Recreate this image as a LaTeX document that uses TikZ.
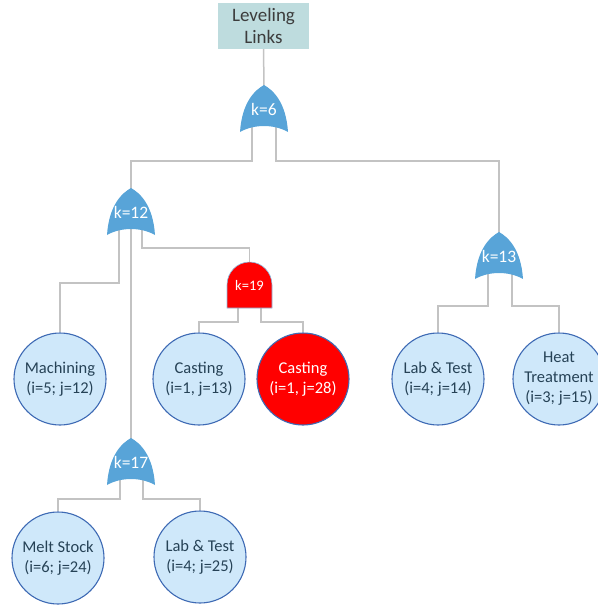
\documentclass[tikz,border=0pt]{standalone}
\usepackage{fontspec}
\setmainfont{Carlito}
\usetikzlibrary{backgrounds}
\definecolor{gateblue}{RGB}{88,164,216}
\definecolor{hotred}{RGB}{255,0,0}
\definecolor{eventfill}{RGB}{207,232,250}
\definecolor{eventline}{RGB}{62,106,180}
\definecolor{eventtext}{RGB}{38,66,86}
\definecolor{topfill}{RGB}{190,220,222}
\definecolor{toptext}{RGB}{60,60,60}
\definecolor{wiregray}{RGB}{195,195,195}
\tikzset{
    event/.style={
        circle,
        draw=eventline,
        fill=eventfill,
        line width=1.1pt,
        minimum size=92pt,
        inner sep=0pt,
        align=center,
        text=eventtext,
        font=\fontsize{16.5}{20}\selectfont
    },
    hotevent/.style={event, fill=hotred, text=white},
    topevent/.style={
        rectangle,
        fill=topfill,
        minimum width=91pt,
        minimum height=46pt,
        inner sep=0pt,
        align=center,
        text=toptext,
        font=\fontsize{19}{22}\selectfont
    },
    gate/.style={
        rectangle,
        minimum width=48pt,
        minimum height=48pt,
        inner sep=0pt,
        text=white,
        font=\fontsize{17.5}{19}\selectfont
    },
    andlabel/.style={gate, font=\fontsize{14.5}{17}\selectfont},
    wire/.style={draw=wiregray, line width=1.5pt}
}

\begin{document}
\begin{tikzpicture}[x=1pt, y=-1pt]
	\useasboundingbox (0,0) rectangle (597,607);
	\node[topevent] (links) at (263.5,26) {Leveling\\Links};
	\node[gate] (k6) at (264,109) {k=6};
	\node[gate] (k12) at (131,212) {k=12};
	\node[gate] (k13) at (499,256) {k=13};
	\node[andlabel] (k19) at (249.5,285) {k=19};
	\node[gate] (k17) at (131,462) {k=17};
	\node[event] (mach) at (60,379) {Machining\\(i=5; j=12)};
	\node[event] (cast) at (199,379) {Casting\\(i=1, j=13)};
	\node[hotevent] (hotcast) at (303,379) {Casting\\(i=1, j=28)};
	\node[event] (lab) at (438,379) {Lab \& Test\\(i=4; j=14)};
	\node[event] (heat) at (559,379) {Heat\\Treatment\\(i=3; j=15)};
	\node[event] (melt) at (58,558) {Melt Stock\\(i=6; j=24)};
	\node[event] (labb) at (200,557) {Lab \& Test\\(i=4; j=25)};
	\begin{scope}[on background layer]
	\draw[wire] (links) -- (k6.center);
	\draw[wire] ([xshift=-12pt]k6.center) -- ++(0,52) -| (k12.center);
	\draw[wire] ([xshift=12pt]k6.center) -- ++(0,52) -| (k13.center);
	\draw[wire] ([xshift=-12pt]k12.center) -- ++(0,71) -| (mach.north);
	\draw[wire] (k12.center) -- (k17.center);
	\draw[wire] ([xshift=11pt]k12.center) -- ++(0,36) -| (k19.center);
	\draw[wire] ([xshift=-11.5pt]k19.center) -- ++(0,37) -| (cast.north);
	\draw[wire] ([xshift=11.5pt]k19.center) -- ++(0,37) -| (hotcast.north);
	\draw[wire] ([xshift=-11pt]k13.center) -- ++(0,50) -| (lab.north);
	\draw[wire] ([xshift=13pt]k13.center) -- ++(0,50) -| (heat.north);
	\draw[wire] ([xshift=-11pt]k17.center) -- ++(0,37) -| (melt.north);
	\draw[wire] ([xshift=12pt]k17.center) -- ++(0,37) -| (labb.north);
	\foreach \g in {k6,k12,k13,k17}
		\fill[gateblue, shift={(\g.center)}]
		(0,-24) .. controls (9,-19) and (22,-7) .. (24,23)
		.. controls (10,15) and (-10,15) .. (-24,23)
		.. controls (-22,-7) and (-9,-19) .. (0,-24) -- cycle;
	\filldraw[fill=hotred, draw=gateblue!70, line width=0.6pt, shift={(k19.center)}]
		(-22.5,23) -- (-22.5,0)
		arc[start angle=180, end angle=360, x radius=22.5, y radius=23]
		-- (22.5,23) -- cycle;
	\end{scope}
\end{tikzpicture}
\end{document}
